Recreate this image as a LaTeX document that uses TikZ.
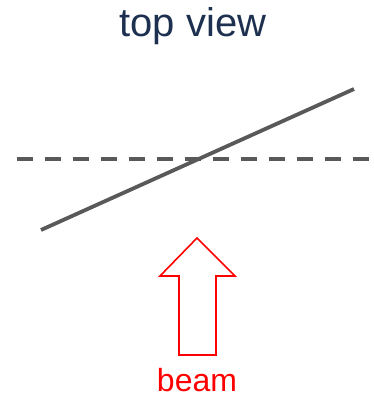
\documentclass[tikz,border=0pt]{standalone}
\usepackage{fontspec}
\setmainfont{Liberation Sans}
\definecolor{navy}{HTML}{1E3050}
\definecolor{slate}{HTML}{595959}
\definecolor{beamred}{HTML}{FF0000}

\begin{document}
\begin{tikzpicture}[x=1pt,y=-1pt,
    sample/.style={slate,line width=3.8pt},
    beamarrow/.style={beamred,line width=1.6pt,line join=miter}]
  \useasboundingbox (0,0) rectangle (374,399);

  \node[font=\fontsize{40}{46}\selectfont,text=navy,anchor=base] (title) at (193,36) {top view};

  % reference plane and tilted sample
  \coordinate (refL) at (17,159);
  \coordinate (refR) at (370,159);
  \draw[sample,dash pattern=on 16pt off 12pt] (refL) -- (refR);
  \coordinate (sampL) at (41,230);
  \coordinate (sampR) at (354,89);
  \draw[sample] (sampL) -- (sampR);

  % incoming beam
  \draw[beamarrow] (197,238) -- (235,276) -- (216,276) -- (216,355)
    -- (179,355) -- (179,276) -- (160,276) -- cycle;
  \node[font=\fontsize{32}{38}\selectfont,text=beamred,anchor=base] (beam) at (197,391) {beam};
\end{tikzpicture}
\end{document}
